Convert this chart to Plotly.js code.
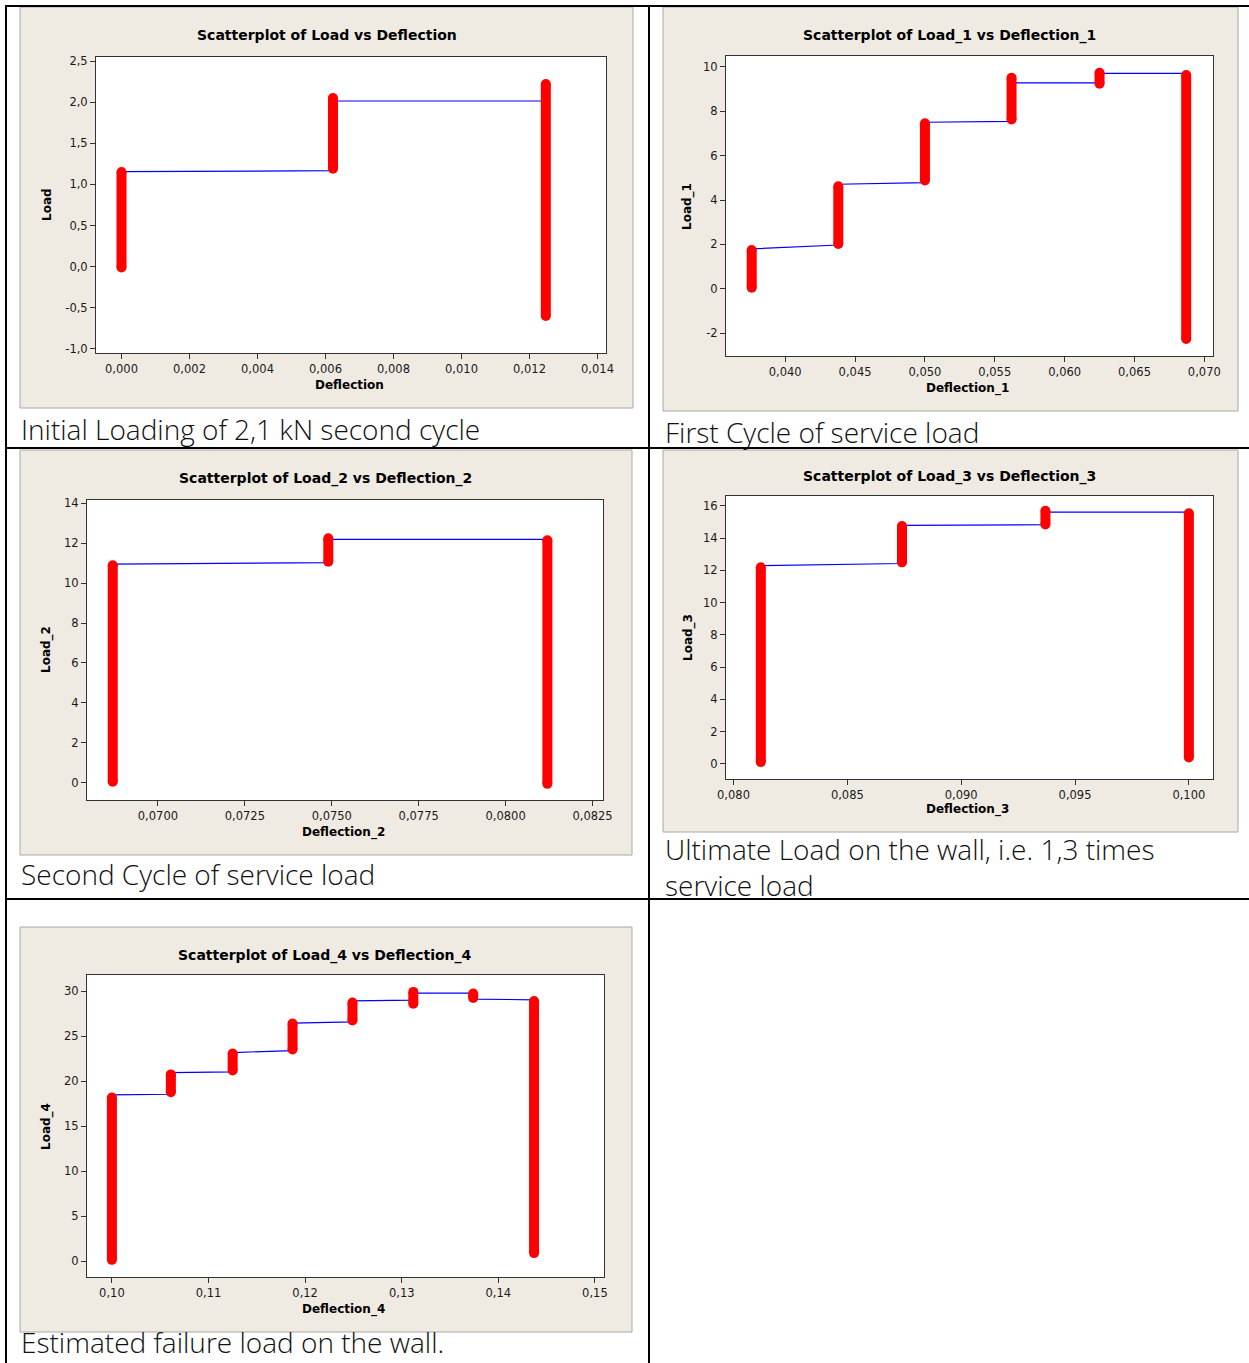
<!DOCTYPE html>
<html>
<head>
<meta charset="utf-8">
<script src="https://cdn.plot.ly/plotly-3.0.1.min.js"></script>
<style>
html,body{margin:0;padding:0;background:#fff;}
#chart{width:1249px;height:1363px;}
</style>
</head>
<body>
<div id="chart"></div>
<script>
// ---------------- DATA ----------------
// Chart A: Load vs Deflection (initial loading)
const deflA = [0.0000, 0.00622, 0.01248];
const loadA_min = [-0.01, 1.19, -0.60];
const loadA_max = [1.15, 2.05, 2.22];
const loadA_entry = [-0.01, 1.167, 2.014];
const loadA_exit = [1.155, 2.014, -0.60];

// Chart B: Load_1 vs Deflection_1 (first cycle)
const deflB = [0.0376, 0.0438, 0.0500, 0.0562, 0.0625, 0.0687];
const loadB_min = [0.05, 2.02, 4.88, 7.62, 9.23, -2.25];
const loadB_max = [1.75, 4.62, 7.45, 9.50, 9.73, 9.62];
const loadB_entry = [0.05, 1.975, 4.78, 7.54, 9.27, 9.70];
const loadB_exit = [1.80, 4.71, 7.50, 9.27, 9.70, -2.25];

// Chart C: Load_2 vs Deflection_2 (second cycle)
const deflC = [0.0687, 0.0749, 0.0812];
const loadC_min = [0.05, 11.08, -0.06];
const loadC_max = [10.9, 12.25, 12.15];
const loadC_entry = [0.05, 11.03, 12.2];
const loadC_exit = [10.96, 12.2, -0.06];

// Chart D: Load_3 vs Deflection_3 (ultimate load)
const deflD = [0.0812, 0.0874, 0.0937, 0.1000];
const loadD_min = [0.1, 12.5, 14.85, 0.38];
const loadD_max = [12.2, 14.75, 15.7, 15.55];
const loadD_entry = [0.1, 12.43, 14.84, 15.62];
const loadD_exit = [12.3, 14.8, 15.62, 0.38];

// Chart E: Load_4 vs Deflection_4 (estimated failure)
const deflE = [0.1000, 0.1061, 0.1125, 0.1187, 0.1249, 0.1312, 0.1374, 0.1437];
const loadE_min = [0.13, 18.79, 21.21, 23.55, 26.78, 28.64, 29.28, 0.88];
const loadE_max = [18.2, 20.77, 23.08, 26.42, 28.76, 29.95, 29.77, 28.94];
const loadE_entry = [0.13, 18.56, 21.05, 23.42, 26.62, 29.04, 29.82, 29.07];
const loadE_exit = [18.48, 20.97, 23.2, 26.47, 28.96, 29.82, 29.15, 0.88];

// Tick labels
const xTickA = [0, 0.002, 0.004, 0.006, 0.008, 0.010, 0.012, 0.014];
const xTextA = ['0,000','0,002','0,004','0,006','0,008','0,010','0,012','0,014'];
const yTickA = [-1, -0.5, 0, 0.5, 1, 1.5, 2, 2.5];
const yTextA = ['-1,0','-0,5','0,0','0,5','1,0','1,5','2,0','2,5'];

const xTickB = [0.040, 0.045, 0.050, 0.055, 0.060, 0.065, 0.070];
const xTextB = ['0,040','0,045','0,050','0,055','0,060','0,065','0,070'];
const yTickB = [-2, 0, 2, 4, 6, 8, 10];
const yTextB = ['-2','0','2','4','6','8','10'];

const xTickC = [0.0700, 0.0725, 0.0750, 0.0775, 0.0800, 0.0825];
const xTextC = ['0,0700','0,0725','0,0750','0,0775','0,0800','0,0825'];
const yTickC = [0, 2, 4, 6, 8, 10, 12, 14];
const yTextC = ['0','2','4','6','8','10','12','14'];

const xTickD = [0.080, 0.085, 0.090, 0.095, 0.100];
const xTextD = ['0,080','0,085','0,090','0,095','0,100'];
const yTickD = [0, 2, 4, 6, 8, 10, 12, 14, 16];
const yTextD = ['0','2','4','6','8','10','12','14','16'];

const xTickE = [0.10, 0.11, 0.12, 0.13, 0.14, 0.15];
const xTextE = ['0,10','0,11','0,12','0,13','0,14','0,15'];
const yTickE = [0, 5, 10, 15, 20, 25, 30];
const yTextE = ['0','5','10','15','20','25','30'];

const titles = ['Scatterplot of Load vs Deflection','Scatterplot of Load_1 vs Deflection_1',
  'Scatterplot of Load_2 vs Deflection_2','Scatterplot of Load_3 vs Deflection_3',
  'Scatterplot of Load_4 vs Deflection_4'];
const xTitles = ['Deflection','Deflection_1','Deflection_2','Deflection_3','Deflection_4'];
const yTitles = ['Load','Load_1','Load_2','Load_3','Load_4'];
const captions = ['Initial Loading of 2,1 kN second cycle','First Cycle of service load',
  'Second Cycle of service load','Ultimate Load on the wall, i.e. 1,3 times<br>service load',
  'Estimated failure load on the wall.'];

// ---------------- LAYOUT GEOMETRY ----------------
const W = 1249, H = 1363;
const px = v => v / W;
const py = v => 1 - v / H;

const charts = [
  {d: deflA, mn: loadA_min, mx: loadA_max, en: loadA_entry, ex: loadA_exit,
   xt: xTickA, xtt: xTextA, yt: yTickA, ytt: yTextA,
   xr: [-0.00075, 0.01425], yr: [-1.049, 2.549],
   bg: [20, 633, 7, 408], plot: [96, 606, 57, 353],
   title: [327, 35], xlab: [349, 385], ylab: [47, 205]},
  {d: deflB, mn: loadB_min, mx: loadB_max, en: loadB_entry, ex: loadB_exit,
   xt: xTickB, xtt: xTextB, yt: yTickB, ytt: yTextB,
   xr: [0.03576, 0.07062], yr: [-3.02, 10.48],
   bg: [663, 1238, 7, 411], plot: [726, 1213, 56, 356],
   title: [950, 35], xlab: [967, 388], ylab: [688, 206]},
  {d: deflC, mn: loadC_min, mx: loadC_max, en: loadC_entry, ex: loadC_exit,
   xt: xTickC, xtt: xTextC, yt: yTickC, ytt: yTextC,
   xr: [0.06796, 0.0828], yr: [-0.87, 14.17],
   bg: [20, 632, 450, 855], plot: [87, 603, 500, 800],
   title: [325, 478], xlab: [343, 832], ylab: [46, 650]},
  {d: deflD, mn: loadD_min, mx: loadD_max, en: loadD_entry, ex: loadD_exit,
   xt: xTickD, xtt: xTextD, yt: yTickD, ytt: yTextD,
   xr: [0.07967, 0.10106], yr: [-0.95, 16.62],
   bg: [663, 1238, 450, 832], plot: [726, 1213, 496, 779],
   title: [950, 476], xlab: [967, 809], ylab: [688, 637]},
  {d: deflE, mn: loadE_min, mx: loadE_max, en: loadE_entry, ex: loadE_exit,
   xt: xTickE, xtt: xTextE, yt: yTickE, ytt: yTextE,
   xr: [0.09742, 0.15094], yr: [-1.78, 31.83],
   bg: [20, 632, 927, 1332], plot: [87, 604, 975, 1277],
   title: [325, 955], xlab: [343, 1309], ylab: [46, 1127]}
];

const captionPos = [[19, 429], [663, 432], [19, 874], [663, 867], [19, 1342]];

const tickFont = {family: 'DejaVu Sans, Verdana, sans-serif', size: 11.5, color: '#1a1a1a'};
const boldFont = {family: 'DejaVu Sans, Verdana, sans-serif', size: 12, color: '#000', weight: 'bold'};
const titleFont = {family: 'DejaVu Sans, Verdana, sans-serif', size: 14, color: '#000', weight: 'bold'};
const capFont = {family: 'Open Sans, Lato, sans-serif', size: 28, color: '#111', weight: 300};

const traces = [];
const layout = {
  width: W, height: H,
  margin: {l: 0, r: 0, t: 0, b: 0, pad: 0},
  paper_bgcolor: '#ffffff', plot_bgcolor: '#ffffff',
  showlegend: false,
  shapes: [], annotations: []
};

charts.forEach((c, i) => {
  const sfx = i === 0 ? '' : String(i + 1);
  const xa = 'x' + sfx, ya = 'y' + sfx;
  // connecting line
  const lx = [], ly = [];
  c.d.forEach((x, j) => { lx.push(x, x); ly.push(c.en[j], c.ex[j]); });
  traces.push({type: 'scatter', mode: 'lines', x: lx, y: ly, xaxis: xa, yaxis: ya,
    line: {color: '#0000ff', width: 1.2}, hoverinfo: 'skip'});
  // red point clusters
  const rx = [], ry = [];
  c.d.forEach((x, j) => { rx.push(x, x, null); ry.push(c.mn[j], c.mx[j], null); });
  traces.push({type: 'scatter', mode: 'lines+markers', x: rx, y: ry, xaxis: xa, yaxis: ya,
    line: {color: '#ff0000', width: 10}, marker: {color: '#ff0000', size: 10},
    connectgaps: false, hoverinfo: 'skip'});

  const axCommon = {showline: true, linecolor: '#333', linewidth: 1, mirror: true,
    ticks: 'outside', ticklen: 5, tickwidth: 1, tickcolor: '#333',
    showgrid: false, zeroline: false, tickfont: tickFont, fixedrange: true};
  layout['xaxis' + sfx] = Object.assign({}, axCommon, {
    domain: [px(c.plot[0]), px(c.plot[1])], range: c.xr, anchor: ya,
    tickmode: 'array', tickvals: c.xt, ticktext: c.xtt});
  layout['yaxis' + sfx] = Object.assign({}, axCommon, {
    domain: [py(c.plot[3]), py(c.plot[2])], range: c.yr, anchor: xa,
    tickmode: 'array', tickvals: c.yt, ticktext: c.ytt});

  // beige graph region
  layout.shapes.push({type: 'rect', xref: 'paper', yref: 'paper', layer: 'below',
    x0: px(c.bg[0]), x1: px(c.bg[1]), y0: py(c.bg[3]), y1: py(c.bg[2]),
    fillcolor: '#efebe2', line: {color: '#a8a8a8', width: 1}});
  // white data region
  layout.shapes.push({type: 'rect', xref: xa + ' domain', yref: ya + ' domain', layer: 'below',
    x0: 0, x1: 1, y0: 0, y1: 1, fillcolor: '#ffffff', line: {width: 0}});

  layout.annotations.push({text: titles[i], xref: 'paper', yref: 'paper',
    x: px(c.title[0]), y: py(c.title[1]), xanchor: 'center', yanchor: 'middle',
    showarrow: false, font: titleFont});
  layout.annotations.push({text: xTitles[i], xref: 'paper', yref: 'paper',
    x: px(c.xlab[0]), y: py(c.xlab[1]), xanchor: 'center', yanchor: 'middle',
    showarrow: false, font: boldFont});
  layout.annotations.push({text: yTitles[i], xref: 'paper', yref: 'paper',
    x: px(c.ylab[0]), y: py(c.ylab[1]), xanchor: 'center', yanchor: 'middle',
    textangle: -90, showarrow: false, font: boldFont});
});

// table borders
const tableLines = [
  [5, 6, 1249, 6], [6, 5, 6, 1363], [649, 5, 649, 1363],
  [5, 448, 1249, 448], [5, 899, 1249, 899]
];
tableLines.forEach(l => layout.shapes.push({type: 'line', xref: 'paper', yref: 'paper',
  layer: 'below', x0: px(l[0]), y0: py(l[1]), x1: px(l[2]), y1: py(l[3]),
  line: {color: '#000', width: 2}}));

captions.forEach((t, i) => layout.annotations.push({text: t, xref: 'paper', yref: 'paper',
  x: px(captionPos[i][0]), y: py(captionPos[i][1]), xanchor: 'left', yanchor: 'middle',
  align: 'left', showarrow: false, font: capFont}));

Plotly.newPlot('chart', traces, layout, {staticPlot: true, displayModeBar: false});
</script>
</body>
</html>
